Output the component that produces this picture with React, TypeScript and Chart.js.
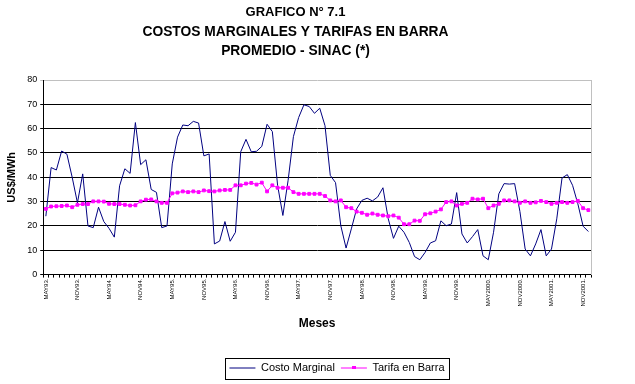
import React, { useEffect, useRef } from "react";
import { Chart, registerables } from "chart.js";

Chart.register(...registerables);

const monthNames = ["ENE", "FEB", "MAR", "ABR", "MAY", "JUN", "JUL", "AGO", "SET", "OCT", "NOV", "DIC"];
const yearNames = ["93", "94", "95", "96", "97", "98", "99", "2000", "2001"];

// Categories: May 1993 .. Dec 2001 (104 months)
const categories: string[] = [];
yearNames.forEach((y, yi) => {
  monthNames.forEach((m, mi) => {
    if (yi === 0 && mi < 4) return;
    categories.push(m + y + ".");
  });
});

const tickLabels = [
  "MAY93.", "NOV93.", "MAY94.", "NOV94.", "MAY95.", "NOV95.", "MAY96.", "NOV96.", "MAY97.",
  "NOV97.", "MAY98.", "NOV98.", "MAY99.", "NOV99.", "MAY2000.", "NOV2000.", "MAY2001.", "NOV2001.",
];

const costoMarginal = [
  24, 44, 43, 50.8, 49.5, 40, 29.5, 41.4, 20, 19.3,
  27.7, 21.8, 19, 15.4, 36.5, 43.5, 41.6, 62.5, 45.2, 47.2,
  35, 33.8, 19.3, 20, 45.5, 56.5, 61.5, 61.2, 63, 62.3,
  48.8, 49.6, 12.6, 13.8, 21.8, 13.7, 17.4, 50.5, 55.6, 50.5,
  50.7, 52.7, 61.8, 58.8, 36.7, 24.3, 38.8, 56.7, 64.6, 69.8,
  69.1, 66.3, 68.4, 61.2, 40.8, 37.8, 20.1, 10.9, 18.8, 27,
  30.5, 31.4, 30.3, 31.9, 35.7, 23, 14.9, 19.9, 17.4, 13.2,
  7.4, 6.1, 9.1, 13, 13.9, 22.1, 20.1, 20.8, 33.7, 16.7,
  13, 15.6, 18.5, 7.7, 6.1, 17.4, 33.2, 37.4, 37.2, 37.4,
  26, 10.5, 7.7, 12.6, 18.5, 7.7, 10.5, 22.9, 39.7, 41.1,
  36.7, 29.1, 19.9, 17.7,
];

const tarifaBarra = [
  27, 28, 28.1, 28.2, 28.4, 27.7, 28.7, 29, 29, 30.1,
  30.1, 30, 29.1, 29, 29, 28.7, 28.4, 28.5, 30.1, 30.8,
  30.9, 30.1, 29.5, 29.5, 33.4, 33.7, 34.2, 33.9, 34.2, 33.9,
  34.6, 34.3, 34.2, 34.6, 34.8, 34.8, 36.7, 36.7, 37.4, 37.7,
  37, 37.8, 34.2, 36.7, 35.7, 35.7, 35.7, 33.9, 33.2, 33.2,
  33.2, 33.2, 33.2, 32.3, 30.5, 30.1, 30.5, 27.7, 27.3, 25.9,
  25.4, 24.6, 25.1, 24.6, 24.3, 24, 24.3, 23.4, 20.7, 20.7,
  22.2, 22.1, 24.8, 25.2, 25.9, 26.8, 29.8, 30.1, 28.4, 29.1,
  29.5, 31.2, 30.9, 31.2, 27.3, 28.4, 29.1, 30.5, 30.5, 30.1,
  29.5, 30.1, 29.5, 29.7, 30.3, 29.8, 29.1, 29.5, 29.8, 29.5,
  29.8, 30.3, 27.3, 26.5,
];

const FONT = "'Liberation Sans', Arial, sans-serif";
const LEGEND_CENTER_X = 337;

const framePlugin = {
  id: "frameAndLegendBox",
  afterUpdate(chart: any) {
    const lg = chart.legend;
    if (!lg || !lg.legendHitBoxes || !lg.legendHitBoxes.length) return;
    const hb = lg.legendHitBoxes;
    let l = Infinity, r = -Infinity;
    hb.forEach((h: any) => {
      l = Math.min(l, h.left);
      r = Math.max(r, h.left + h.width);
    });
    const dx = LEGEND_CENTER_X - (l + r) / 2;
    lg.left += dx;
    lg.right += dx;
    hb.forEach((h: any) => (h.left += dx));
  },
  afterDraw(chart: any) {
    const { ctx, chartArea } = chart;
    ctx.save();
    ctx.strokeStyle = "#c0c0c0";
    ctx.lineWidth = 1;
    const rx = Math.round(chartArea.right) + 0.5;
    ctx.beginPath();
    ctx.moveTo(rx, Math.round(chartArea.top));
    ctx.lineTo(rx, Math.round(chartArea.bottom));
    ctx.stroke();

    const hb = chart.legend && chart.legend.legendHitBoxes;
    if (hb && hb.length) {
      let l = Infinity, r = -Infinity, t = Infinity, b = -Infinity;
      hb.forEach((h: any) => {
        l = Math.min(l, h.left);
        r = Math.max(r, h.left + h.width);
        t = Math.min(t, h.top);
        b = Math.max(b, h.top + h.height);
      });
      ctx.strokeStyle = "#000";
      ctx.strokeRect(Math.round(l - 4) + 0.5, Math.round(t - 5) + 0.5, Math.round(r - l + 9), Math.round(b - t + 10));
      const h2 = hb[1];
      if (h2) {
        ctx.fillStyle = "#ff00ff";
        const cx = h2.left + 13;
        const cy = h2.top + h2.height / 2;
        ctx.fillRect(Math.round(cx - 2), Math.round(cy - 2), 4, 3);
      }
    }
    ctx.restore();
  },
};

export default function App() {
  const ref = useRef<HTMLCanvasElement>(null);
  useEffect(() => {
    if (!ref.current) return;
    const chart = new Chart(ref.current, {
      type: "line",
      data: {
        labels: categories,
        datasets: [
          {
            label: "Costo Marginal",
            data: costoMarginal,
            borderColor: "#000080",
            backgroundColor: "#000080",
            borderWidth: 1,
            pointRadius: 0,
            pointBorderWidth: 1,
            pointBorderColor: "#000080",
            tension: 0,
            order: 2,
          },
          {
            label: "Tarifa en Barra",
            data: tarifaBarra,
            borderColor: "#ff00ff",
            backgroundColor: "#ff00ff",
            borderWidth: 1,
            pointStyle: "rect",
            pointRadius: 2,
            pointBorderWidth: 1,
            pointBorderColor: "#ff00ff",
            pointBackgroundColor: "#ff00ff",
            tension: 0,
            order: 1,
          },
        ],
      },
      options: {
        responsive: false,
        devicePixelRatio: 1,
        animation: false,
        layout: { padding: { left: 0, right: 44, top: 0, bottom: 0.5 } },
        font: { family: FONT },
        plugins: {
          title: {
            display: true,
            text: "GRAFICO N° 7.1",
            color: "#000",
            font: { family: FONT, size: 13, weight: "bold" },
            padding: { top: 4.7, bottom: 2 },
          },
          subtitle: {
            display: true,
            text: ["COSTOS MARGINALES Y TARIFAS EN BARRA", "PROMEDIO - SINAC (*)"],
            color: "#000",
            font: { family: FONT, size: 13.8, weight: "bold", lineHeight: 19.5 / 13.8 },
            padding: { top: 0, bottom: 18.7 },
          },
          legend: {
            position: "bottom",
            labels: {
              color: "#000",
              font: { family: FONT, size: 11 },
              usePointStyle: true,
              pointStyle: "line",
              pointStyleWidth: 26,
              padding: 6,
              sort: (a: any, b: any) => a.datasetIndex - b.datasetIndex,
            },
          },
          tooltip: { enabled: false },
        },
        scales: {
          x: {
            type: "category",
            offset: true,
            grid: {
              display: true,
              drawOnChartArea: false,
              drawTicks: true,
              tickLength: 3,
              color: "#000",
              offset: true,
            },
            border: { display: true, color: "#000", width: 1 },
            ticks: {
              autoSkip: false,
              minRotation: 90,
              maxRotation: 90,
              padding: 1,
              color: "#000",
              font: { family: FONT, size: 6 },
              callback: (_v: any, i: number) => (i % 6 === 0 ? tickLabels[i / 6] : ""),
            },
            title: {
              display: true,
              text: "Meses",
              color: "#000",
              font: { family: FONT, size: 12, weight: "bold" },
              padding: { top: 9, bottom: 25.5 },
            },
          },
          y: {
            min: 0,
            max: 80,
            grid: {
              color: (c: any) => (c.tick && c.tick.value === 80 ? "#c0c0c0" : "#000"),
              lineWidth: 1,
              drawTicks: true,
              tickLength: 3,
            },
            border: { display: true, color: "#000", width: 1 },
            ticks: {
              stepSize: 10,
              padding: 3,
              color: "#000",
              font: { family: FONT, size: 9 },
            },
            title: {
              display: true,
              text: "US$/MWh",
              color: "#000",
              font: { family: FONT, size: 11, weight: "bold" },
              padding: { top: 5, bottom: 6 },
            },
          },
        },
      },
      plugins: [framePlugin],
    } as any);
    return () => chart.destroy();
  }, []);
  return (
    <div style={{ position: "fixed", left: 0, top: 0, width: 635, height: 384, background: "#fff" }}>
      <canvas ref={ref} width={635} height={384} style={{ display: "block", width: 635, height: 384 }} />
    </div>
  );
}
